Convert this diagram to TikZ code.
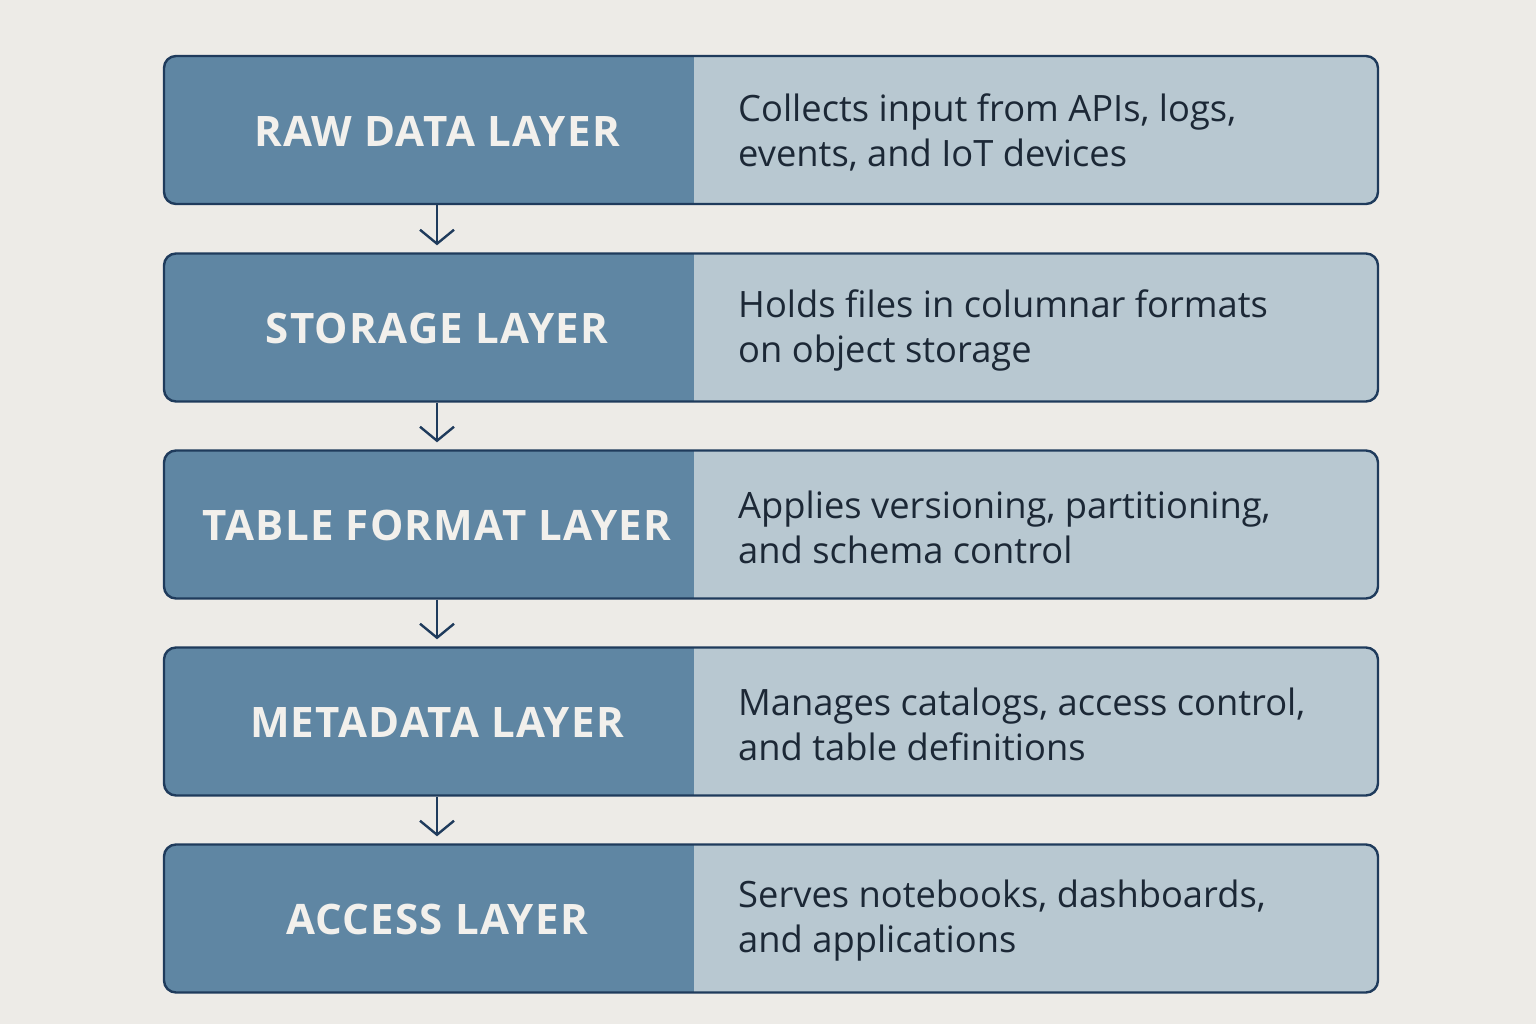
\documentclass[tikz,border=0pt]{standalone}
\usepackage{fontspec}
\setmainfont{Open Sans}
\newfontfamily\titlefont[LetterSpace=3]{Open Sans Bold}
\usetikzlibrary{arrows.meta}
\definecolor{bgc}{HTML}{EDEBE7}
\definecolor{leftc}{HTML}{5F86A3}
\definecolor{rightc}{HTML}{B8C8D1}
\definecolor{edgec}{HTML}{1F3B5C}
\definecolor{titlec}{HTML}{F2F0EC}
\definecolor{descc}{HTML}{1C2836}
\tikzset{
  layerbox/.style={draw=edgec, line width=2.4pt, rounded corners=12pt, minimum width=1214pt, minimum height=148pt, inner sep=0pt},
  titletext/.style={text=titlec, font=\titlefont\fontsize{42}{48}\selectfont, anchor=center, inner sep=0pt},
  desctext/.style={text=descc, font=\fontsize{36.3}{45}\selectfont, align=left, anchor=west, inner sep=0pt},
  flow/.style={draw=edgec, line width=2.4pt, -{Straight Barb[length=14pt, width=34pt, line width=2.4pt]}, shorten >=7pt}
}
\begin{document}
\begin{tikzpicture}[x=1pt,y=-1pt]
\fill[bgc] (0,0) rectangle (1536,1024);
\useasboundingbox (0,0) rectangle (1536,1024);
\foreach \i/\y/\t/\d in {1/130/RAW DATA LAYER/{Collects input from APIs, logs,\\events, and IoT devices},
                        2/327.5/STORAGE LAYER/{Holds files in columnar formats\\on object storage},
                        3/524.5/TABLE FORMAT LAYER/{Applies versioning, partitioning,\\and schema control},
                        4/721.5/METADATA LAYER/{Manages catalogs, access control,\\and table definitions},
                        5/918.5/ACCESS LAYER/{Serves notebooks, dashboards,\\and applications}}{
  \begin{scope}
    \clip[rounded corners=12pt] (164,\y-74) rectangle (1378,\y+74);
    \fill[rightc] (164,\y-74) rectangle (1378,\y+74);
    \fill[leftc] (164,\y-74) rectangle (694,\y+74);
  \end{scope}
  \node[layerbox] (b\i) at (771,\y) {};
  \node[titletext] (t\i) at (437,\y+1) {\t};
  \node[desctext] (d\i) at (738,\y+2.5) {\d};
}
\foreach \a/\b in {1/2,2/3,3/4,4/5}{
  \draw[flow] (b\a.south -| t\a) -- (b\b.north -| t\a);
}
\end{tikzpicture}
\end{document}
